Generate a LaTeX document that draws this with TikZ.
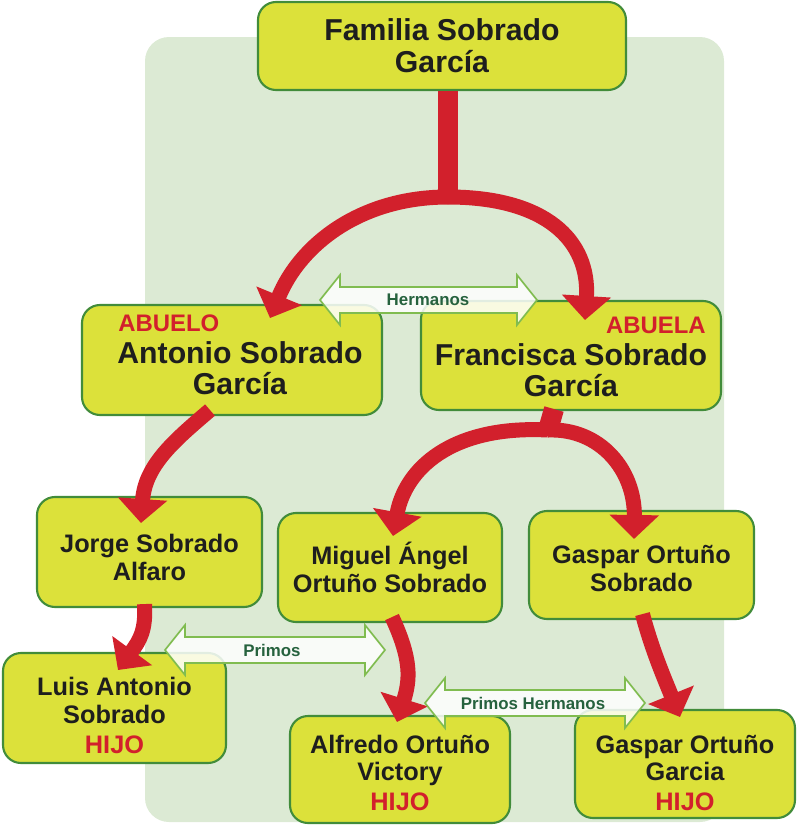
\documentclass[tikz,border=0pt]{standalone}
\usepackage{fontspec}
\setmainfont{Liberation Sans}
\newfontfamily\heavy{Liberation Sans Bold}
\usepackage{tikz}
\usetikzlibrary{arrows.meta,positioning,calc}

\definecolor{boxfill}{RGB}{220,225,58}
\definecolor{boxline}{RGB}{66,140,58}
\definecolor{linkred}{RGB}{210,32,44}
\definecolor{bggreen}{RGB}{220,234,212}
\definecolor{kinline}{RGB}{128,188,80}
\definecolor{kintext}{RGB}{38,98,62}
\definecolor{nametext}{RGB}{30,30,30}
\newcommand{\pxu}{0.025cm}
\newcommand{\lift}[1]{\rule{0pt}{#1pt}}

\begin{document}
\begin{tikzpicture}[x=0.025cm, y=-0.025cm,
person/.style={draw=boxline, line width=1.5pt, fill=boxfill, rounded corners=0.45cm, align=center, text=nametext, font=\heavy\fontsize{18}{19.5}\selectfont, inner sep=0pt},
elder/.style={person, font=\heavy\fontsize{21.5}{22.5}\selectfont},
eldername/.style={align=center, text=nametext, font=\heavy\fontsize{21.5}{22}\selectfont, inner sep=0pt},
role/.style={text=linkred, font=\heavy\fontsize{17}{18}\selectfont, inner sep=0pt},
link/.style={draw=linkred, line width=0.375cm, -{Triangle[width=1.2cm, length=0.6cm]}},
trunk/.style={draw=linkred, line width=0.5cm},
kin/.style={draw=kinline, line width=1.2pt, fill=white, fill opacity=0.85},
kinlabel/.style={text=kintext, font=\heavy\fontsize{12}{13}\selectfont, inner sep=0pt}
]
\useasboundingbox (0,0) rectangle (800,829);
\fill[bggreen, rounded corners=0.6cm] (145,37) rectangle (724,822);

% generations
\node[elder, minimum width=368*\pxu, minimum height=88*\pxu] (familia) at (442,46) {Familia Sobrado\\García};
\node[person, minimum width=300*\pxu, minimum height=110*\pxu] (abuelo) at (232,360) {};
\node[person, minimum width=300*\pxu, minimum height=109*\pxu] (abuela) at (571,355.5) {};
\node[eldername] (abuelo-name) at (240,368) {Antonio Sobrado\\García};
\node[eldername] (abuela-name) at (571,370) {Francisca Sobrado\\García};
\node[role, anchor=west] (abuelo-role) at (118,323) {ABUELO};
\node[role, anchor=east] (abuela-role) at (706,325) {ABUELA};

\node[person, minimum width=225*\pxu, minimum height=110*\pxu] (jorge) at (149.5,552) {\lift{21}Jorge Sobrado\\Alfaro};
\node[person, minimum width=224*\pxu, minimum height=109*\pxu] (miguel) at (390,567.5) {Miguel Ángel\\Ortuño Sobrado};
\node[person, minimum width=225*\pxu, minimum height=108*\pxu] (gaspar) at (641.5,565) {\lift{18}Gaspar Ortuño\\Sobrado};

\node[person, minimum width=223*\pxu, minimum height=110*\pxu] (luis) at (114.5,708) {\lift{24}Luis Antonio\\Sobrado\\[2pt]\textcolor{linkred}{HIJO}};
\node[person, minimum width=220*\pxu, minimum height=107*\pxu] (alfredo) at (400,769.5) {\lift{18}Alfredo Ortuño\\Victory\\[2pt]\textcolor{linkred}{HIJO}};
\node[person, minimum width=220*\pxu, minimum height=108*\pxu] (gasparh) at (685,764) {\lift{26}Gaspar Ortuño\\Garcia\\[2pt]\textcolor{linkred}{HIJO}};

% red descent arrows
\coordinate (split1) at (448,197);
\coordinate (split2) at (548,430);
\draw[trunk] (familia.south -| split1) -- (split1);
\draw[link] (split1) .. controls (360,197) and (300,245) .. (270,318);
\draw[link] (split1) .. controls (545,197) and (590,240) .. (585,320);
\draw[link] ($(abuelo.south)+(-22,-6)$) .. controls (175,440) and (145,465) .. (141,523);
\draw[trunk] ($(abuela.south)+(-17,-2)$) -- (split2);
\draw[link] (split2) .. controls (450,425) and (405,470) .. (393,536);
\draw[link] (split2) .. controls (600,428) and (635,470) .. (634,539);
\draw[link] ($(jorge.south)+(-5,-4)$) .. controls (146,630) and (140,640) .. (118,670);
\draw[link] ($(miguel.south)+(2,-6)$) .. controls (412,660) and (410,680) .. (397,722);
\draw[link] ($(gaspar.south)+(1,-6)$) .. controls (652,650) and (665,680) .. (680,717);

% kinship arrows
\foreach \xa/\xb/\yc in {320/537/300, 165/385/650, 425/645/703}
  \draw[kin] (\xa,\yc) -- (\xa+20,\yc-25) -- (\xa+20,\yc-13) -- (\xb-20,\yc-13) -- (\xb-20,\yc-25)
    -- (\xb,\yc) -- (\xb-20,\yc+25) -- (\xb-20,\yc+13) -- (\xa+20,\yc+13) -- (\xa+20,\yc+25) -- cycle;
\node[kinlabel] (hermanos) at (428,300) {Hermanos};
\node[kinlabel] (primos) at (272,650) {Primos};
\node[kinlabel] (primosh) at (533,703) {Primos Hermanos};
\end{tikzpicture}
\end{document}
